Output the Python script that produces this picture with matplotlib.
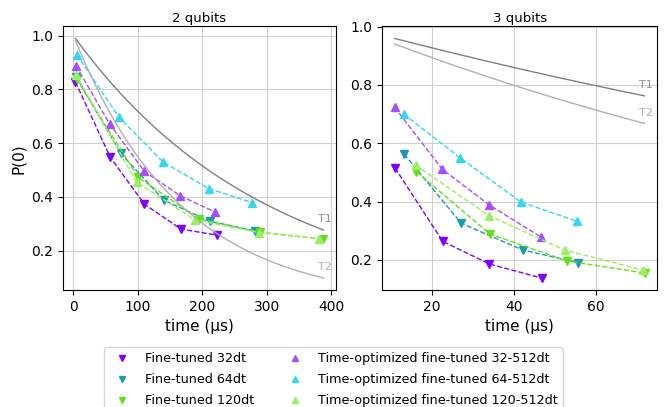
import numpy as np
import matplotlib.pyplot as plt
from matplotlib.lines import Line2D

# 2 qubits
t2_ft32 = [3, 57, 110, 167, 222]
p2_ft32 = [0.828, 0.548, 0.373, 0.280, 0.258]
t2_ft64 = [4, 73, 140, 212, 282]
p2_ft64 = [0.848, 0.563, 0.388, 0.309, 0.273]
t2_ft120 = [5, 100, 195, 290, 388]
p2_ft120 = [0.838, 0.474, 0.318, 0.268, 0.243]
t2_to32 = [4, 56, 110, 166, 220]
p2_to32 = [0.888, 0.672, 0.495, 0.404, 0.343]
t2_to64 = [5, 71, 139, 210, 277]
p2_to64 = [0.930, 0.696, 0.530, 0.431, 0.379]
t2_to120 = [4, 98, 189, 288, 381]
p2_to120 = [0.854, 0.455, 0.314, 0.267, 0.244]
T1_2q, T2_2q = 302, 167

# 3 qubits
t3_ft32 = [11.0, 22.6, 34.0, 46.7]
p3_ft32 = [0.515, 0.264, 0.186, 0.138]
t3_ft64 = [13.2, 27.1, 42.1, 55.6]
p3_ft64 = [0.563, 0.326, 0.234, 0.191]
t3_ft120 = [16.2, 34.1, 52.8, 71.8]
p3_ft120 = [0.503, 0.289, 0.197, 0.155]
t3_to32 = [10.9, 22.5, 33.8, 46.6]
p3_to32 = [0.723, 0.511, 0.390, 0.278]
t3_to64 = [13.1, 26.9, 41.6, 55.3]
p3_to64 = [0.700, 0.550, 0.399, 0.333]
t3_to120 = [16.0, 33.9, 52.3, 71.5]
p3_to120 = [0.525, 0.352, 0.234, 0.165]
T1_3q, T2_3q = 265, 178

labels_ft = ['Fine-tuned 32dt', 'Fine-tuned 64dt', 'Fine-tuned 120dt']
labels_to = ['Time-optimized fine-tuned 32-512dt',
             'Time-optimized fine-tuned 64-512dt',
             'Time-optimized fine-tuned 120-512dt']
colors_ft = ['#7f00ff', '#1a9ab5', '#66e01a']
colors_to = ['#a64dff', '#33d6f0', '#99f060']


def panel(ax, ft, to, T1, T2, title):
    for (t, p), c in zip(ft, colors_ft):
        ax.plot(t, p, '--v', color=c, lw=1, ms=6)
    for (t, p), c in zip(to, colors_to):
        ax.plot(t, p, '--^', color=c, lw=1, ms=6)
    allt = [x for t, _ in ft + to for x in t]
    tt = np.linspace(min(allt), max(allt), 200)
    y1 = np.exp(-tt / T1)
    y2 = np.exp(-tt / T2)
    ax.plot(tt, y1, color='#808080', lw=1)
    ax.plot(tt, y2, color='#b0b0b0', lw=1)
    ax.annotate('T1', (tt[-1], y1[-1]), xytext=(1, 4), textcoords='offset points',
                ha='center', va='bottom', color='#909090', fontsize=8)
    ax.annotate('T2', (tt[-1], y2[-1]), xytext=(1, 4), textcoords='offset points',
                ha='center', va='bottom', color='#b0b0b0', fontsize=8)
    ax.set_title(title, fontsize=9.5, pad=3)
    ax.set_xlabel('time (µs)', fontsize=11)
    ax.tick_params(labelsize=10)
    ax.grid(True, color='#d0d0d0')


fig = plt.figure(figsize=(6.67, 4.07), dpi=100)
ax1 = fig.add_axes([0.0945, 0.2875, 0.409, 0.6475])
ax2 = fig.add_axes([0.573, 0.2875, 0.412, 0.6475])

panel(ax1,
      [(t2_ft32, p2_ft32), (t2_ft64, p2_ft64), (t2_ft120, p2_ft120)],
      [(t2_to32, p2_to32), (t2_to64, p2_to64), (t2_to120, p2_to120)],
      T1_2q, T2_2q, '2 qubits')
panel(ax2,
      [(t3_ft32, p3_ft32), (t3_ft64, p3_ft64), (t3_ft120, p3_ft120)],
      [(t3_to32, p3_to32), (t3_to64, p3_to64), (t3_to120, p3_to120)],
      T1_3q, T2_3q, '3 qubits')
ax1.set_ylabel('P(0)', fontsize=11)

handles = [Line2D([], [], ls='none', marker='v', color=c, ms=5) for c in colors_ft]
handles += [Line2D([], [], ls='none', marker='^', color=c, ms=5) for c in colors_to]
fig.legend(handles, labels_ft + labels_to, ncol=2, loc='upper center',
           bbox_to_anchor=(0.5, 0.163), fontsize=9.2, frameon=True,
           labelspacing=0.62, columnspacing=2.2)

fig.savefig('out.png', dpi=100)
